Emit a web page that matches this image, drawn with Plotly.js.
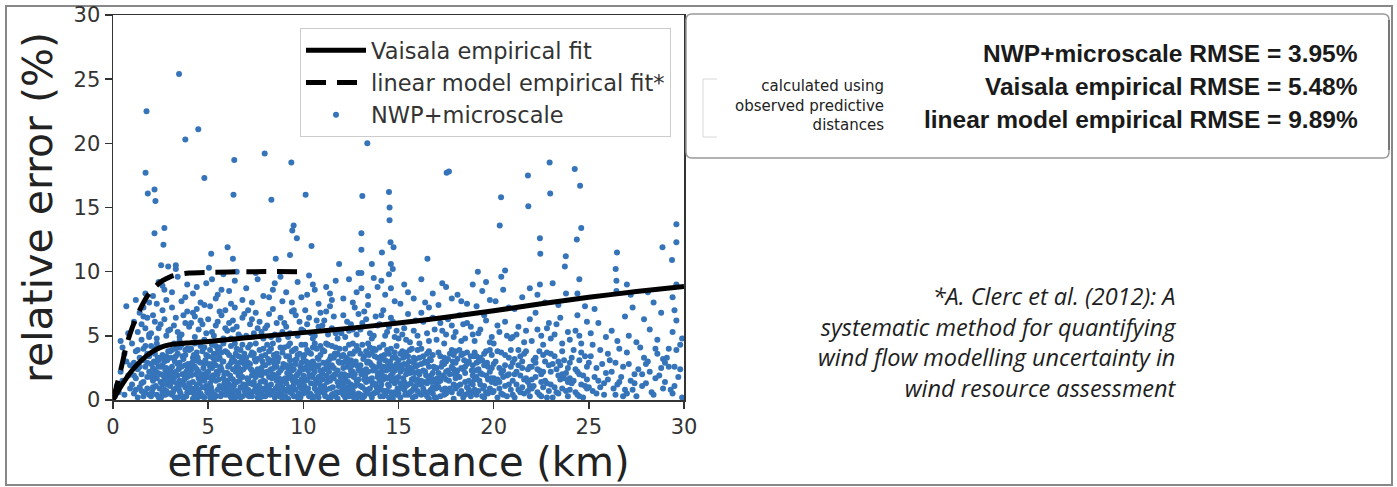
<!DOCTYPE html>
<html><head><meta charset="utf-8">
<script src="https://cdn.plot.ly/plotly-3.0.1.min.js"></script>
<style>html,body{margin:0;padding:0;background:#fff;}#chart{width:1397px;height:487px;}</style>
</head><body><div id="chart"></div>
<script>
// ---- data ----
const xTicks = [0, 5, 10, 15, 20, 25, 30];
const yTicks = [0, 5, 10, 15, 20, 25, 30];
const seriesNames = ["Vaisala empirical fit", "linear model empirical fit*", "NWP+microscale"];
const vaisalaDist = [0, 0.5, 1, 1.5, 2, 2.5, 3, 4, 5, 7, 10, 12.5, 15, 17.5, 20, 22.5, 25, 27.5, 30];
const vaisalaErr  = [0, 1.25, 2.3, 3.1, 3.7, 4.1, 4.3, 4.45, 4.55, 4.85, 5.25, 5.6, 6.0, 6.45, 6.95, 7.5, 8.0, 8.45, 8.85];
const linearDist = [0, 0.4, 0.7, 1.0, 1.4, 1.8, 2.2, 2.6, 3.0, 3.5, 4, 5, 7, 10];
const linearErr  = [0, 2.3, 4.2, 5.6, 7.0, 8.1, 8.8, 9.3, 9.6, 9.8, 9.9, 9.95, 10, 10];
const axisTitles = ["effective distance (km)", "relative error (%)"];
const rmseLabels = ["NWP+microscale RMSE = 3.95%", "Vaisala empirical RMSE = 5.48%", "linear model empirical RMSE = 9.89%"];
const noteLines = ["calculated using", "observed predictive", "distances"];
const citationLines = ["*A. Clerc et al. (2012): A", "systematic method for quantifying", "wind flow modelling uncertainty in", "wind resource assessment"];
// observed points: [effective distance km, relative error %]
const nwpPoints = [
[0.1,0.3],[0.2,1.1],[0.3,0.6],[0.4,2.2],[0.5,4.1],[0.5,1.5],[0.6,0.4],[0.7,3.0],[0.7,7.3],[0.8,1.9],[0.8,5.2],[0.9,0.9],[0.9,2.7],[0.4,4.6],[0.6,3.6],
[1.0,1.2],[1.0,4.4],[1.1,0.5],[1.1,2.9],[1.1,6.1],[1.2,1.7],[1.2,3.8],[1.2,7.8],[1.3,0.2],[1.3,2.4],[1.3,5.3],[1.4,1.0],[1.4,3.3],[1.4,6.8],[1.5,0.7],[1.5,2.0],[1.5,4.7],[1.5,5.9],[1.6,1.4],[1.6,3.1],[1.6,7.2],[1.6,0.3],[1.7,2.6],[1.7,4.2],[1.7,5.6],[1.7,8.3],[1.8,0.9],[1.8,1.8],[1.8,3.6],[1.8,6.4],[1.9,0.4],[1.9,2.2],[1.9,4.9],[1.9,7.6],[1.9,5.1],[1.2,0.8],[1.4,2.6],[1.6,4.0],[1.3,3.9],[1.5,1.3],[1.7,0.6],[1.8,2.9],[1.1,1.9],[1.9,3.4],[1.6,6.5],
[1.76,22.5],[1.71,17.7],[1.83,16.1],[2.18,16.4],[2.23,15.5],[2.18,13.0],[2.7,13.4],[2.65,12.1],[2.53,10.5],[3.47,25.4],[3.8,20.3],[4.48,21.1],[4.8,17.3],
[2.0,0.3],[2.3,1.7],[2.7,3.2],[2.1,0.9],[2.8,2.5],[2.4,4.1],[2.6,1.2],[2.2,3.6],[2.9,0.5],[2.5,2.0],[2.0,2.8],[2.6,0.6],[2.3,4.4],[2.9,2.2],[2.1,1.0],[2.7,3.0],[2.4,0.2],[2.8,1.9],[2.2,3.9],[2.5,1.4],
[2.1,1.5],[2.8,3.4],[2.5,0.1],[2.2,2.3],[2.9,3.8],[2.3,0.4],[2.6,2.7],[2.0,4.2],[2.7,0.8],[2.4,2.6],[2.2,4.0],[2.9,1.3],[2.0,1.8],[2.6,3.5],[2.3,2.9],[2.8,0.7],[2.5,3.3],[2.1,2.5],[2.7,1.6],[2.4,3.1],
[2.0,5.2],[2.2,6.1],[2.4,5.6],[2.6,7.0],[2.8,5.0],[2.1,6.6],[2.3,4.8],[2.5,5.9],[2.7,6.3],[2.9,5.4],[2.1,8.1],[2.4,9.2],[2.7,8.6],[2.9,10.4],[2.3,7.5],[2.6,8.9],[2.8,7.8],
[3.0,1.1],[3.4,0.2],[3.8,2.7],[3.1,3.9],[3.5,1.5],[3.9,0.6],[3.2,2.1],[3.6,4.3],[3.3,0.9],[3.7,3.2],[3.0,2.4],[3.4,3.6],[3.8,1.0],[3.1,0.4],[3.5,2.9],[3.9,4.0],[3.2,1.7],[3.6,0.3],[3.3,3.4],[3.7,2.0],
[3.0,3.8],[3.4,1.9],[3.8,3.5],[3.1,2.6],[3.5,0.7],[3.9,2.3],[3.2,4.4],[3.6,1.3],[3.3,2.2],[3.7,0.1],[3.1,1.4],[3.5,4.1],[3.9,1.8],[3.2,0.8],[3.6,2.6],[3.3,4.0],[3.7,1.2],[3.0,0.5],[3.4,2.8],[3.8,3.9],
[3.0,5.5],[3.3,6.4],[3.6,5.1],[3.9,6.9],[3.2,5.8],[3.5,4.9],[3.8,6.0],[3.1,7.2],[3.4,5.3],[3.7,6.6],[3.5,4.6],[3.1,8.4],[3.4,9.6],[3.8,8.0],[3.3,10.2],[3.6,7.7],[3.9,9.0],[3.3,10.5],
[4.0,0.6],[4.5,2.2],[4.9,1.1],[4.2,3.3],[4.7,0.3],[4.1,1.9],[4.6,4.2],[4.3,0.9],[4.8,2.8],[4.4,3.7],[4.0,2.5],[4.5,0.8],[4.9,3.5],[4.2,1.4],[4.7,2.0],[4.1,4.0],[4.6,1.6],[4.3,2.6],[4.8,0.2],[4.4,1.2],
[4.0,3.9],[4.5,3.0],[4.9,2.1],[4.2,0.1],[4.7,3.8],[4.1,0.7],[4.6,2.9],[4.3,4.4],[4.8,1.5],[4.4,0.4],[4.1,2.3],[4.6,0.5],[4.3,3.1],[4.8,4.1],[4.0,1.3],[4.5,1.7],[4.9,0.9],[4.2,2.7],[4.7,1.0],[4.4,2.4],
[4.0,5.7],[4.3,4.9],[4.6,6.2],[4.9,5.2],[4.2,6.8],[4.5,5.5],[4.8,4.7],[4.1,6.0],[4.4,7.1],[4.7,5.9],[4.3,6.5],[4.2,8.3],[4.6,7.6],[4.9,9.1],[4.4,8.8],[4.8,7.4],
[5.0,1.8],[5.4,0.3],[5.8,3.0],[5.1,2.6],[5.5,4.0],[5.9,1.2],[5.2,0.7],[5.6,2.3],[5.3,3.6],[5.7,0.5],[5.0,3.4],[5.4,1.5],[5.8,0.9],[5.1,0.2],[5.5,2.0],[5.9,3.8],[5.2,4.3],[5.6,1.1],[5.3,2.9],[5.7,2.4],
[5.0,0.6],[5.4,2.7],[5.8,4.4],[5.1,3.9],[5.5,0.8],[5.9,2.1],[5.2,1.6],[5.6,3.3],[5.3,0.1],[5.7,3.7],[5.1,1.3],[5.5,3.2],[5.9,0.4],[5.2,2.5],[5.6,4.1],[5.3,1.9],[5.7,1.0],[5.0,2.2],[5.4,4.2],[5.8,1.7],
[5.0,6.3],[5.3,5.0],[5.6,6.9],[5.9,5.6],[5.2,5.3],[5.5,6.1],[5.8,4.8],[5.1,7.3],[5.4,5.8],[5.7,6.6],[5.9,7.0],[5.2,9.4],[5.5,8.2],[5.8,9.8],[5.4,7.9],[5.7,8.6],[5.04,10.3],[5.16,11.4],
[6.0,0.9],[6.3,2.4],[6.7,0.2],[6.1,3.5],[6.5,1.4],[6.9,2.8],[6.2,4.2],[6.6,0.6],[6.4,3.0],[6.8,1.8],[6.0,2.1],[6.3,0.4],[6.7,3.9],[6.1,1.2],[6.5,2.6],[6.9,0.8],[6.2,1.7],[6.6,3.4],[6.4,0.1],[6.8,4.3],
[6.0,3.7],[6.3,1.6],[6.7,2.2],[6.1,0.5],[6.5,4.0],[6.9,1.1],[6.2,2.9],[6.6,1.9],[6.4,4.4],[6.8,0.3],[6.1,2.7],[6.5,0.7],[6.9,3.6],[6.2,0.2],[6.6,2.5],[6.4,1.3],[6.8,3.1],[6.0,1.5],[6.3,3.3],[6.7,1.0],
[6.0,5.4],[6.3,6.2],[6.6,5.1],[6.9,6.7],[6.2,4.8],[6.5,5.7],[6.8,6.4],[6.1,6.0],[6.4,7.2],[6.7,4.9],[6.3,5.5],[6.1,8.5],[6.4,9.3],[6.8,7.8],[6.5,10.0],[6.2,7.5],[6.37,18.7],[6.33,16.0],[6.02,11.9],[6.3,11.0],
[7.0,2.6],[7.4,0.7],[7.8,1.9],[7.1,4.1],[7.5,3.0],[7.9,0.3],[7.2,1.3],[7.6,2.4],[7.3,3.7],[7.7,1.0],[7.0,0.4],[7.4,2.1],[7.8,3.4],[7.1,1.6],[7.5,0.9],[7.9,2.7],[7.2,4.3],[7.6,0.2],[7.3,1.9],[7.7,3.9],
[7.0,1.2],[7.4,3.6],[7.8,0.6],[7.1,2.9],[7.5,4.4],[7.9,1.5],[7.2,0.5],[7.6,3.2],[7.3,2.3],[7.7,0.1],[7.0,3.3],[7.4,1.4],[7.8,2.5],[7.1,0.8],[7.5,1.8],[7.9,4.0],[7.2,2.8],[7.6,1.1],[7.3,0.3],[7.7,2.2],
[7.0,5.0],[7.3,6.3],[7.6,5.6],[7.9,4.8],[7.2,5.9],[7.5,6.8],[7.8,5.3],[7.1,7.0],[7.4,5.2],[7.7,6.1],[7.0,8.7],[7.3,7.6],[7.6,9.4],[7.9,8.1],[7.5,9.9],[7.97,19.2],
[8.0,1.4],[8.4,3.1],[8.8,0.5],[8.1,2.2],[8.5,0.2],[8.9,3.7],[8.2,0.9],[8.6,2.6],[8.3,4.0],[8.7,1.7],[8.0,3.5],[8.4,0.7],[8.8,2.3],[8.1,4.3],[8.5,1.9],[8.9,1.0],[8.2,2.9],[8.6,0.4],[8.3,1.2],[8.7,3.3],
[8.0,0.3],[8.4,2.0],[8.8,4.1],[8.1,1.1],[8.5,3.4],[8.9,2.5],[8.2,3.8],[8.6,1.5],[8.3,2.4],[8.7,0.8],[8.0,2.7],[8.4,4.4],[8.8,1.3],[8.1,0.6],[8.5,2.8],[8.9,0.1],[8.2,1.8],[8.6,3.6],[8.3,0.5],[8.7,2.1],
[8.0,5.6],[8.3,4.9],[8.6,6.0],[8.9,5.3],[8.2,6.7],[8.5,5.1],[8.8,6.4],[8.1,5.8],[8.4,7.1],[8.7,4.7],[8.2,8.0],[8.5,9.1],[8.9,7.7],[8.4,8.6],[8.55,11.0],[8.32,15.6],[8.8,9.6],
[9.0,0.8],[9.4,2.3],[9.8,1.1],[9.1,3.4],[9.5,0.3],[9.9,2.9],[9.2,1.7],[9.6,4.0],[9.3,0.6],[9.7,2.0],[9.0,2.6],[9.4,0.5],[9.8,3.6],[9.1,1.3],[9.5,2.4],[9.9,0.9],[9.2,4.2],[9.6,1.5],[9.3,3.1],[9.7,0.2],
[9.0,4.1],[9.4,1.8],[9.8,0.4],[9.1,2.7],[9.5,3.9],[9.9,1.6],[9.2,0.1],[9.6,2.8],[9.3,1.9],[9.7,3.5],[9.0,1.5],[9.4,3.8],[9.8,2.2],[9.1,0.7],[9.5,1.2],[9.9,4.3],[9.2,2.5],[9.6,0.8],[9.3,4.4],[9.7,1.4],
[9.0,6.0],[9.3,5.2],[9.6,6.6],[9.9,5.5],[9.2,4.9],[9.5,7.0],[9.8,6.1],[9.1,5.7],[9.4,6.9],[9.7,5.0],[9.1,8.4],[9.4,7.6],[9.7,9.2],[9.9,8.0],[9.37,18.5],[9.49,13.6],[9.42,13.2],[9.66,12.6],[9.3,11.3],
[10.0,1.9],[10.4,0.4],[10.8,3.2],[10.1,2.5],[10.5,4.1],[10.9,1.0],[10.2,0.6],[10.6,2.2],[10.3,3.7],[10.7,1.5],[10.0,3.3],[10.4,1.3],[10.8,0.2],[10.1,4.3],[10.5,2.0],[10.9,3.5],[10.2,1.6],[10.6,0.9],[10.3,2.8],[10.7,4.0],
[10.0,0.5],[10.4,2.9],[10.8,1.8],[10.1,0.8],[10.5,3.0],[10.9,2.3],[10.2,3.9],[10.6,4.4],[10.3,0.3],[10.7,2.6],[10.1,1.5],[10.5,0.1],[10.9,4.2],[10.2,2.7],[10.6,1.2],[10.3,1.9],[10.7,0.7],[10.0,2.4],[10.4,3.6],[10.8,2.7],
[10.0,5.4],[10.3,6.4],[10.6,5.0],[10.9,6.8],[10.2,5.9],[10.5,4.8],[10.8,5.7],[10.1,7.0],[10.4,5.2],[10.7,6.2],[10.2,8.2],[10.5,9.0],[10.8,7.5],[10.3,9.7],[10.12,16.0],[10.43,12.0],[10.6,8.6],
[11.0,0.7],[11.4,2.6],[11.8,1.4],[11.1,3.8],[11.5,0.4],[11.9,2.9],[11.2,1.9],[11.6,3.3],[11.3,0.2],[11.7,4.1],[11.0,2.2],[11.4,0.9],[11.8,3.6],[11.1,1.1],[11.5,2.7],[11.9,0.6],[11.2,4.4],[11.6,1.7],[11.3,3.0],[11.7,0.3],
[11.0,3.9],[11.4,1.5],[11.8,0.1],[11.1,2.4],[11.5,4.2],[11.9,1.3],[11.2,0.8],[11.6,2.5],[11.3,1.6],[11.7,3.5],[11.0,1.6],[11.4,3.2],[11.8,2.3],[11.1,0.5],[11.5,1.8],[11.9,4.0],[11.2,2.8],[11.6,0.5],[11.3,4.3],[11.7,2.0],
[11.0,5.8],[11.3,5.1],[11.6,6.5],[11.9,5.4],[11.2,6.9],[11.5,5.6],[11.8,4.8],[11.1,6.2],[11.4,7.3],[11.7,5.2],[11.2,8.8],[11.5,7.8],[11.88,10.6],[11.7,9.3],[11.4,8.3],
[12.0,2.0],[12.4,0.3],[12.8,2.7],[12.1,3.5],[12.5,1.2],[12.9,0.5],[12.2,4.0],[12.6,2.2],[12.3,0.9],[12.7,3.8],[12.0,0.6],[12.4,1.9],[12.8,4.2],[12.1,1.3],[12.5,3.1],[12.9,2.4],[12.2,0.2],[12.6,3.6],[12.3,2.6],[12.7,1.1],
[12.0,3.4],[12.4,4.3],[12.8,1.5],[12.1,0.4],[12.5,2.3],[12.9,3.9],[12.2,1.7],[12.6,0.7],[12.3,3.2],[12.7,2.0],[12.0,1.4],[12.4,2.9],[12.8,0.1],[12.1,2.5],[12.5,0.8],[12.9,1.6],[12.2,3.0],[12.6,4.4],[12.3,1.0],[12.7,0.4],
[12.0,5.2],[12.3,6.1],[12.6,5.5],[12.9,6.7],[12.2,4.9],[12.5,5.9],[12.8,5.1],[12.1,6.6],[12.4,5.4],[12.7,7.2],[12.1,7.9],[12.4,9.4],[12.8,8.4],[12.6,7.6],[12.9,9.9],
[13.0,1.1],[13.4,3.0],[13.8,0.6],[13.1,2.3],[13.5,4.1],[13.9,1.8],[13.2,0.3],[13.6,2.7],[13.3,3.8],[13.7,1.3],[13.0,3.6],[13.4,0.8],[13.8,2.5],[13.1,4.3],[13.5,1.5],[13.9,3.3],[13.2,2.0],[13.6,0.2],[13.3,1.4],[13.7,4.0],
[13.0,0.4],[13.4,2.2],[13.8,3.9],[13.1,1.0],[13.5,2.9],[13.9,0.7],[13.2,3.4],[13.6,1.7],[13.3,0.5],[13.7,2.6],[13.0,2.7],[13.4,4.4],[13.8,1.2],[13.1,0.1],[13.5,0.9],[13.9,2.1],[13.2,1.6],[13.6,3.7],[13.3,2.4],[13.7,0.5],
[13.0,5.5],[13.3,6.3],[13.6,4.8],[13.9,5.8],[13.2,6.9],[13.5,5.2],[13.8,6.5],[13.1,6.0],[13.4,7.4],[13.7,5.0],[13.05,9.9],[13.05,8.7],[13.4,8.1],[13.7,9.5],[13.9,8.8],[13.36,20.0],[13.1,15.9],[13.05,13.0],[13.05,11.7],[13.6,10.6],
[14.0,0.9],[14.4,2.5],[14.8,1.3],[14.1,3.4],[14.5,0.2],[14.9,2.8],[14.2,1.6],[14.6,4.0],[14.3,0.5],[14.7,2.1],[14.0,2.9],[14.4,0.7],[14.8,3.7],[14.1,1.2],[14.5,2.4],[14.9,0.4],[14.2,4.3],[14.6,1.9],[14.3,3.1],[14.7,0.1],
[14.0,4.1],[14.4,1.7],[14.8,0.6],[14.1,2.2],[14.5,3.6],[14.9,1.5],[14.2,0.3],[14.6,2.7],[14.3,1.8],[14.7,3.3],[14.0,1.5],[14.4,3.9],[14.8,2.3],[14.1,0.8],[14.5,1.1],[14.9,4.2],[14.2,2.6],[14.6,0.6],
[14.0,5.9],[14.3,5.0],[14.6,6.4],[14.9,5.4],[14.2,7.0],[14.5,5.7],[14.8,4.9],[14.1,6.6],[14.4,5.3],[14.7,6.1],[14.5,9.8],[14.6,8.7],[14.3,8.2],[14.1,9.3],[14.8,7.7],
[14.5,16.2],[14.53,15.0],[14.53,14.0],[14.58,12.3],[14.74,11.9],[14.6,10.6],[14.13,11.5],[14.7,10.2],
[15.0,1.8],[15.4,0.5],[15.8,2.9],[15.1,3.6],[15.5,1.2],[15.9,0.3],[15.2,2.4],[15.6,3.9],[15.3,0.8],[15.7,1.6],[15.0,3.1],[15.4,2.0],[15.8,0.9],[15.1,0.2],[15.5,3.4],[15.9,2.6],[15.2,1.0],[15.6,0.6],[15.3,2.8],[15.7,4.0],
[15.0,0.5],[15.4,3.7],[15.8,1.7],[15.1,2.2],[15.5,0.4],[15.9,3.2],[15.2,3.8],[15.6,2.1],[15.3,1.4],[15.7,0.7],[15.1,1.3],[15.5,2.6],[15.9,1.1],[15.3,3.5],[15.7,2.3],[15.0,2.5],[15.4,1.1],[15.8,3.3],
[15.0,4.8],[15.3,5.6],[15.6,4.5],[15.9,6.2],[15.2,5.1],[15.5,6.7],[15.8,5.4],[15.4,4.7],[15.1,7.5],[15.5,8.4],[15.8,7.9],[15.3,9.0],
[16.0,0.7],[16.4,2.2],[16.8,1.0],[16.1,3.3],[16.5,0.3],[16.9,2.5],[16.2,1.5],[16.6,3.8],[16.3,0.9],[16.7,1.9],[16.0,2.7],[16.4,0.6],[16.8,3.5],[16.1,1.2],[16.5,2.9],[16.9,0.2],[16.2,4.0],[16.6,1.7],[16.3,2.3],[16.7,3.1],
[16.0,3.9],[16.4,1.4],[16.8,0.5],[16.1,2.0],[16.5,3.6],[16.9,1.6],[16.2,0.4],[16.6,2.6],[16.3,3.4],[16.7,0.8],[16.0,1.6],[16.4,3.0],[16.8,2.1],[16.2,2.8],[16.6,0.1],[16.5,1.3],
[16.0,5.0],[16.3,6.1],[16.6,4.6],[16.9,5.5],[16.2,6.8],[16.5,5.2],[16.8,6.4],[16.1,4.4],[16.4,7.6],[16.8,8.3],[16.52,11.0],[16.2,9.4],[16.6,7.2],
[17.0,1.3],[17.4,2.8],[17.8,0.6],[17.1,3.7],[17.5,1.6],[17.9,2.4],[17.2,0.3],[17.6,3.2],[17.3,1.9],[17.7,0.9],[17.0,2.5],[17.4,0.4],[17.8,3.9],[17.1,1.0],[17.5,2.2],[17.9,1.2],[17.2,3.4],[17.6,0.7],[17.3,2.9],[17.7,2.0],
[17.0,0.2],[17.4,1.8],[17.8,2.6],[17.1,2.1],[17.5,0.5],[17.9,3.5],[17.2,1.5],[17.6,2.3],[17.3,0.8],[17.7,3.6],[17.1,1.4],[17.5,3.0],[17.9,0.1],[17.4,3.3],
[17.0,4.7],[17.3,5.4],[17.6,6.3],[17.9,4.9],[17.2,6.0],[17.5,5.1],[17.8,5.8],[17.4,4.4],[17.1,7.4],[17.5,8.8],[17.8,7.9],[17.3,9.1],[17.53,17.7],[17.65,17.8],
[18.0,0.9],[18.4,2.4],[18.8,1.3],[18.1,3.2],[18.5,0.4],[18.9,2.7],[18.2,1.8],[18.6,3.7],[18.3,0.7],[18.7,1.5],[18.0,2.9],[18.4,0.2],[18.8,3.4],[18.1,1.1],[18.5,2.1],[18.9,0.6],[18.2,3.9],[18.6,1.0],[18.3,2.5],[18.7,3.0],
[18.0,1.7],[18.4,3.6],[18.8,0.3],[18.1,2.3],[18.5,1.4],[18.9,1.9],[18.2,0.5],[18.6,2.8],[18.3,3.5],[18.7,0.8],[18.0,3.8],[18.5,2.6],[18.9,1.2],
[18.0,5.3],[18.3,4.6],[18.6,6.0],[18.9,5.1],[18.2,6.6],[18.5,4.8],[18.8,5.7],[18.4,5.9],[18.1,8.2],[18.6,7.5],[18.9,9.0],[18.3,7.7],
[19.0,1.6],[19.4,0.3],[19.8,2.2],[19.1,2.9],[19.5,1.1],[19.9,3.5],[19.2,0.7],[19.6,1.9],[19.3,3.3],[19.7,0.5],[19.0,3.7],[19.4,2.0],[19.8,0.9],[19.1,0.4],[19.5,2.7],[19.9,1.4],[19.2,2.4],[19.6,3.8],[19.3,1.2],[19.7,2.6],
[19.0,0.8],[19.4,3.1],[19.8,3.9],[19.1,1.8],[19.5,0.2],[19.9,2.5],[19.2,3.0],[19.6,0.6],[19.3,2.1],[19.7,1.6],[19.1,3.4],[19.5,3.6],
[19.0,4.6],[19.3,5.5],[19.6,6.2],[19.9,4.9],[19.2,5.2],[19.5,6.6],[19.8,4.5],[19.1,7.3],[19.4,8.5],[19.8,7.8],[19.17,10.0],[19.6,9.2],
[20.0,0.7],[20.4,2.1],[20.8,1.2],[20.1,3.0],[20.5,0.4],[20.9,2.6],[20.2,1.6],[20.6,3.5],[20.3,0.9],[20.7,1.9],[20.0,2.8],[20.4,0.5],[20.8,3.3],[20.1,1.3],[20.5,2.3],[20.9,0.8],[20.2,3.8],[20.6,1.1],[20.3,2.5],[20.7,0.3],
[20.0,1.7],[20.4,3.7],[20.8,2.0],[20.2,0.2],[20.6,2.7],[20.3,1.4],[20.9,3.9],[20.5,1.8],
[20.0,4.4],[20.3,5.3],[20.6,6.1],[20.9,4.8],[20.2,5.8],[20.7,5.0],[20.1,7.7],[20.5,8.6],[20.8,7.2],[20.39,15.8],[20.32,13.6],[20.6,10.1],[20.4,9.6],
[21.0,1.5],[21.4,0.6],[21.8,2.4],[21.1,3.2],[21.5,1.0],[21.9,0.3],[21.2,2.2],[21.6,3.6],[21.3,0.8],[21.7,1.7],[21.0,2.9],[21.4,1.9],[21.8,0.7],[21.1,0.2],[21.5,3.0],[21.9,2.6],[21.2,1.2],[21.6,0.5],[21.3,2.7],[21.7,3.8],
[21.0,0.4],[21.4,3.4],[21.8,1.4],[21.1,2.0],[21.5,2.5],[21.9,1.1],[21.3,3.9],[21.6,1.6],
[21.0,4.9],[21.3,5.7],[21.6,4.5],[21.9,6.3],[21.2,5.1],[21.7,5.4],[21.1,7.1],[21.5,8.0],[21.8,17.5],[21.82,15.1],[21.9,8.7],
[22.0,0.9],[22.4,2.3],[22.8,1.3],[22.1,3.1],[22.5,0.3],[22.9,2.7],[22.2,1.8],[22.6,3.5],[22.3,0.6],[22.7,1.5],[22.0,2.6],[22.4,0.4],[22.8,3.7],[22.1,1.1],[22.5,2.0],[22.9,0.7],[22.2,3.3],[22.6,1.0],[22.3,2.4],[22.7,3.0],
[22.0,1.6],[22.4,3.8],[22.8,0.2],[22.2,2.9],[22.6,2.2],[22.5,1.4],
[22.0,4.6],[22.3,5.5],[22.6,4.3],[22.9,6.0],[22.2,6.8],[22.5,5.0],[22.8,5.6],[22.43,9.0],[22.45,11.4],[22.43,12.6],[22.94,18.5],[22.97,16.1],[22.7,7.6],[22.3,8.2],
[23.0,1.2],[23.4,0.5],[23.8,2.1],[23.1,2.8],[23.5,1.6],[23.9,0.3],[23.2,3.4],[23.6,0.9],[23.3,2.4],[23.7,3.1],[23.0,3.6],[23.4,1.9],[23.8,0.7],[23.1,0.2],[23.5,2.7],[23.9,1.4],[23.2,1.0],[23.6,3.8],[23.3,0.6],[23.7,1.7],
[23.0,2.2],[23.4,3.0],[23.9,2.5],[23.6,2.0],
[23.0,4.8],[23.3,5.9],[23.6,4.4],[23.9,5.3],[23.5,6.4],[23.2,5.1],[23.74,10.4],[23.79,11.2],[23.4,7.4],[23.8,8.3],[23.1,9.1],
[24.0,0.8],[24.4,2.2],[24.8,1.1],[24.1,3.3],[24.5,0.3],[24.9,2.6],[24.2,1.5],[24.6,3.7],[24.3,0.6],[24.7,1.9],[24.0,2.9],[24.4,0.4],[24.8,3.4],[24.1,1.3],[24.5,2.0],[24.9,0.9],[24.2,3.9],[24.6,1.2],[24.3,2.4],[24.7,0.2],
[24.0,1.7],[24.5,3.1],[24.9,1.6],
[24.0,4.7],[24.3,5.4],[24.6,4.4],[24.9,6.1],[24.4,6.6],[24.5,5.0],[24.4,8.3],[24.5,9.4],[24.26,18.0],[24.54,16.7],[24.6,13.4],[24.37,12.5],[24.8,7.3],
[25.0,1.0],[25.4,2.5],[25.8,0.4],[25.1,3.4],[25.5,1.5],[25.9,2.1],[25.2,0.7],[25.6,3.9],[25.3,1.8],[25.7,2.8],[25.0,2.9],[25.4,0.5],[25.8,1.3],[25.2,4.3],[25.6,1.0],
[25.1,5.2],[25.5,6.0],[25.9,4.9],[25.3,7.1],
[26.0,1.6],[26.4,0.4],[26.8,2.6],[26.1,3.1],[26.5,1.2],[26.9,0.8],[26.2,2.2],[26.6,4.0],[26.3,0.9],[26.7,1.8],[26.0,3.6],[26.4,2.9],[26.8,0.3],[26.6,1.4],
[26.2,5.4],[26.5,4.6],[26.9,6.5],[26.41,10.2],[26.48,11.5],[26.45,9.3],[26.45,8.5],
[27.0,0.5],[27.4,2.0],[27.8,1.1],[27.1,2.8],[27.5,0.3],[27.9,3.3],[27.2,1.5],[27.6,2.4],[27.3,0.8],[27.7,4.1],[27.0,3.7],[27.4,1.3],[27.8,2.0],
[27.1,5.0],[27.5,4.5],[27.9,6.3],[27.3,7.2],[27.0,9.0],[27.2,8.2],
[28.0,1.3],[28.4,0.4],[28.8,2.5],[28.1,3.0],[28.5,1.7],[28.9,0.9],[28.2,2.2],[28.6,3.6],[28.3,0.6],[28.7,1.9],[28.0,2.8],[28.5,4.0],[28.9,3.2],
[28.2,5.5],[28.6,4.7],[28.87,11.9],[28.4,7.6],[28.8,6.8],[28.1,8.4],
[29.0,1.4],[29.4,0.5],[29.8,2.4],[29.1,3.3],[29.5,1.1],[29.9,0.2],[29.2,2.6],[29.6,3.9],[29.3,0.8],[29.7,1.8],[29.0,2.9],[29.5,2.6],[29.8,4.3],[29.2,4.0],
[29.4,5.3],[29.6,6.2],[29.5,7.0],[29.4,8.0],[29.6,9.0],[29.37,10.9],[29.6,12.3],[29.6,13.7],[29.9,4.8],
[2.05,0.6],[2.15,2.0],[2.25,1.1],[2.35,3.3],[2.45,0.9],[2.55,2.6],[2.65,1.9],[2.75,0.4],[2.85,3.1],[2.95,1.7],[2.35,2.1],[2.75,2.3],[2.15,3.0],[2.55,0.3],[2.85,1.2],
[3.05,1.9],[3.15,0.6],[3.25,3.0],[3.35,1.3],[3.45,2.4],[3.55,0.5],[3.65,3.4],[3.75,1.6],[3.85,0.3],[3.95,2.8],[3.25,0.2],[3.65,2.0],[3.05,3.3],[3.45,1.0],[3.85,2.2],
[4.05,1.0],[4.15,2.9],[4.25,0.5],[4.35,2.0],[4.45,3.3],[4.55,1.3],[4.65,0.3],[4.75,2.5],[4.85,1.8],[4.95,0.6],[4.25,3.5],[4.65,1.9],[4.05,2.2],[4.45,0.2],[4.85,3.1],
[5.05,2.8],[5.15,1.0],[5.25,3.3],[5.35,0.4],[5.45,2.2],[5.55,1.6],[5.65,0.3],[5.75,3.0],[5.85,2.0],[5.95,0.8],[5.25,1.9],[5.65,2.6],[5.05,0.5],[5.45,3.6],[5.85,1.3],
[6.05,0.4],[6.15,1.9],[6.25,3.1],[6.35,1.1],[6.45,2.2],[6.55,0.3],[6.65,1.5],[6.75,3.3],[6.85,2.4],[6.95,0.6],[6.25,0.8],[6.65,2.9],[6.05,2.6],[6.45,3.6],[6.85,1.2],
[7.05,1.7],[7.15,0.3],[7.25,2.4],[7.35,1.2],[7.45,3.2],[7.55,0.6],[7.65,2.0],[7.75,1.4],[7.85,3.0],[7.95,0.9],[7.25,3.5],[7.65,0.4],[7.05,2.9],[7.45,1.9],[7.85,2.2],
[8.05,2.1],[8.15,3.2],[8.25,0.4],[8.35,1.7],[8.45,2.5],[8.55,0.9],[8.65,3.0],[8.75,0.3],[8.85,1.6],[8.95,2.8],[8.25,2.3],[8.65,1.1],[8.05,0.8],[8.45,3.5],[8.85,0.5],
[9.05,0.3],[9.15,2.1],[9.25,1.0],[9.35,2.7],[9.45,0.9],[9.55,3.1],[9.65,1.9],[9.75,0.5],[9.85,2.6],[9.95,1.2],[9.25,3.4],[9.65,3.2],[9.05,1.7],[9.45,1.5],[9.85,0.2],
[10.05,1.1],[10.15,3.0],[10.25,2.3],[10.35,0.5],[10.45,1.8],[10.55,2.8],[10.65,0.3],[10.75,3.3],[10.85,1.3],[10.95,2.0],[10.25,0.9],[10.65,1.6],[10.05,3.5],[10.45,2.5],[10.85,0.6],
[11.05,2.9],[11.15,0.3],[11.25,1.4],[11.35,2.2],[11.45,3.4],[11.55,1.0],[11.65,2.0],[11.75,0.6],[11.85,3.0],[11.95,1.8],[11.25,2.6],[11.65,3.6],[11.05,0.9],[11.45,0.2],[11.85,1.1],
[12.05,0.9],[12.15,2.0],[12.25,3.3],[12.35,1.4],[12.45,0.5],[12.55,2.7],[12.65,1.8],[12.75,3.0],[12.85,0.3],[12.95,2.3],[12.25,0.6],[12.65,0.2],[12.05,2.9],[12.45,3.6],[12.85,1.2],
[13.05,2.0],[13.15,3.2],[13.25,0.8],[13.35,2.9],[13.45,1.6],[13.55,0.4],[13.65,2.3],[13.75,3.4],[13.85,1.0],[13.95,2.6],[13.25,1.9],[13.65,1.2],[13.05,0.3],[13.45,3.5],[13.85,0.6],
[14.05,3.2],[14.15,1.9],[14.25,0.7],[14.35,2.3],[14.45,1.2],[14.55,3.0],[14.65,0.4],[14.75,2.6],[14.85,1.7],[14.95,0.9],[14.25,3.5],[14.65,1.5],[14.05,0.3],[14.45,2.8],[14.85,3.3],
[15.05,0.9],[15.15,2.7],[15.25,1.7],[15.35,0.4],[15.45,2.3],[15.55,3.0],[15.65,1.3],[15.75,0.2],[15.85,2.1],[15.95,1.5],[15.25,3.3],[15.65,2.5],
[16.05,2.2],[16.15,0.5],[16.25,1.3],[16.35,2.9],[16.45,1.9],[16.55,0.6],[16.65,3.2],[16.75,1.4],[16.85,2.6],[16.95,0.9],
[17.05,1.7],[17.25,2.6],[17.45,0.9],[17.65,1.5],[17.85,3.0],[17.95,2.0],
[18.05,2.1],[18.25,1.2],[18.45,3.1],[18.65,0.5],[18.85,2.3],[18.95,3.4],
[19.05,2.3],[19.25,1.5],[19.45,0.9],[19.65,2.9],[19.85,1.7],[19.95,0.6]
];
const nwpDist = nwpPoints.map(p => p[0]);
const nwpErr  = nwpPoints.map(p => p[1]);

// ---- placement helpers (pixel -> paper) ----
const W = 1397, H = 487, PL = 113, PR = 684, PT = 15, PB = 400;
const fx = px => (px - PL) / (PR - PL);
const fy = py => (PB - py) / (PB - PT);

const traces = [
  {type: 'scatter', mode: 'markers', name: seriesNames[2], x: nwpDist, y: nwpErr,
   marker: {size: 6, color: '#3674ba'}, legendrank: 3, legendgroup: 'c'},
  {type: 'scatter', mode: 'lines', name: seriesNames[0], x: vaisalaDist, y: vaisalaErr,
   line: {color: '#000', width: 5, shape: 'spline', smoothing: 0.8}, legendrank: 1, legendgroup: 'a'},
  {type: 'scatter', mode: 'lines', name: seriesNames[1], x: linearDist, y: linearErr,
   line: {color: '#000', width: 5, dash: '20px,11px', shape: 'spline', smoothing: 0.8}, legendrank: 2, legendgroup: 'b'}
];

const tickFont = {family: 'DejaVu Sans', size: 21, color: '#333'};
const annotations = [];
const rmseY = [53, 87, 120];
rmseLabels.forEach((t, i) => annotations.push({xref: 'paper', yref: 'paper', x: fx(1359), y: fy(rmseY[i]),
  xanchor: 'right', yanchor: 'middle', text: t, showarrow: false, borderpad: 0,
  font: {family: 'Liberation Sans', size: 24.5, weight: 700, color: '#1a1a1a'}}));
// note: one block, three lines
annotations.push({xref: 'paper', yref: 'paper', x: fx(885), y: fy(106), xanchor: 'right', yanchor: 'middle',
  align: 'right', text: noteLines.join('<br>'), showarrow: false, borderpad: 0,
  font: {family: 'DejaVu Sans', size: 15, color: '#222'}});
// citation: one block, four lines
annotations.push({xref: 'paper', yref: 'paper', x: fx(1178), y: fy(341.5), xanchor: 'right', yanchor: 'middle',
  align: 'right', text: citationLines.join('<br>'), showarrow: false, borderpad: 0,
  font: {family: 'Open Sans', size: 23.5, style: 'italic', color: '#1e1e1e'}});

// rounded box for RMSE panel
const bx0 = fx(686), bx1 = fx(1389), byTop = fy(14), byBot = fy(158), rx = 6 / (PR - PL), ry = 6 / (PB - PT);
const boxPath = `M ${bx0 + rx} ${byTop} L ${bx1 - rx} ${byTop} Q ${bx1} ${byTop} ${bx1} ${byTop - ry} L ${bx1} ${byBot + ry} ` +
  `Q ${bx1} ${byBot} ${bx1 - rx} ${byBot} L ${bx0 + rx} ${byBot} Q ${bx0} ${byBot} ${bx0} ${byBot + ry} L ${bx0} ${byTop - ry} Q ${bx0} ${byTop} ${bx0 + rx} ${byTop} Z`;

const shapes = [
  {type: 'rect', xref: 'paper', yref: 'paper', x0: fx(6), x1: fx(1392), y0: fy(485), y1: fy(6),
   line: {color: '#888', width: 2}, layer: 'below'},
  {type: 'path', xref: 'paper', yref: 'paper', path: boxPath, line: {color: '#999', width: 1.5}},
  {type: 'line', xref: 'paper', yref: 'paper', x0: fx(1389), x1: fx(1389), y0: fy(150), y1: fy(20),
   line: {color: '#777', width: 2}},
  {type: 'path', xref: 'paper', yref: 'paper',
   path: `M ${fx(717)} ${fy(79)} L ${fx(703)} ${fy(79)} L ${fx(703)} ${fy(137)} L ${fx(717)} ${fy(137)}`,
   line: {color: '#d8d8d8', width: 1}}
];

const layout = {
  width: W, height: H,
  margin: {l: PL, r: W - PR, t: PT, b: H - PB, pad: 0},
  paper_bgcolor: '#fff', plot_bgcolor: '#fff',
  showlegend: true,
  xaxis: {range: [0, 30], tickvals: xTicks, ticktext: xTicks.map(String), ticks: 'outside', ticklen: 7, tickwidth: 1.5,
    tickcolor: '#333', showline: true, mirror: true, linecolor: '#333', linewidth: 1.5, showgrid: false, zeroline: false,
    tickfont: tickFont, automargin: false,
    title: {text: axisTitles[0], font: {family: 'DejaVu Sans', size: 40, color: '#222'}, standoff: 8}},
  yaxis: {range: [0, 30], tickvals: yTicks, ticktext: yTicks.map(String), ticks: 'outside', ticklen: 7, tickwidth: 1.5,
    tickcolor: '#333', showline: true, mirror: true, linecolor: '#333', linewidth: 1.5, showgrid: false, zeroline: false,
    tickfont: tickFont, automargin: false,
    title: {text: axisTitles[1], font: {family: 'DejaVu Sans', size: 41, color: '#222'}, standoff: 8}},
  legend: {x: fx(300), y: fy(28), xanchor: 'left', yanchor: 'top', bgcolor: 'rgba(255,255,255,0.85)',
    bordercolor: '#ccc', borderwidth: 1, font: {family: 'DejaVu Sans', size: 22.5, color: '#333'},
    itemwidth: 60, tracegroupgap: 4, traceorder: 'normal'},
  annotations: annotations,
  shapes: shapes
};

Plotly.newPlot('chart', traces, layout, {displayModeBar: false, staticPlot: true});
</script>
</body></html>
